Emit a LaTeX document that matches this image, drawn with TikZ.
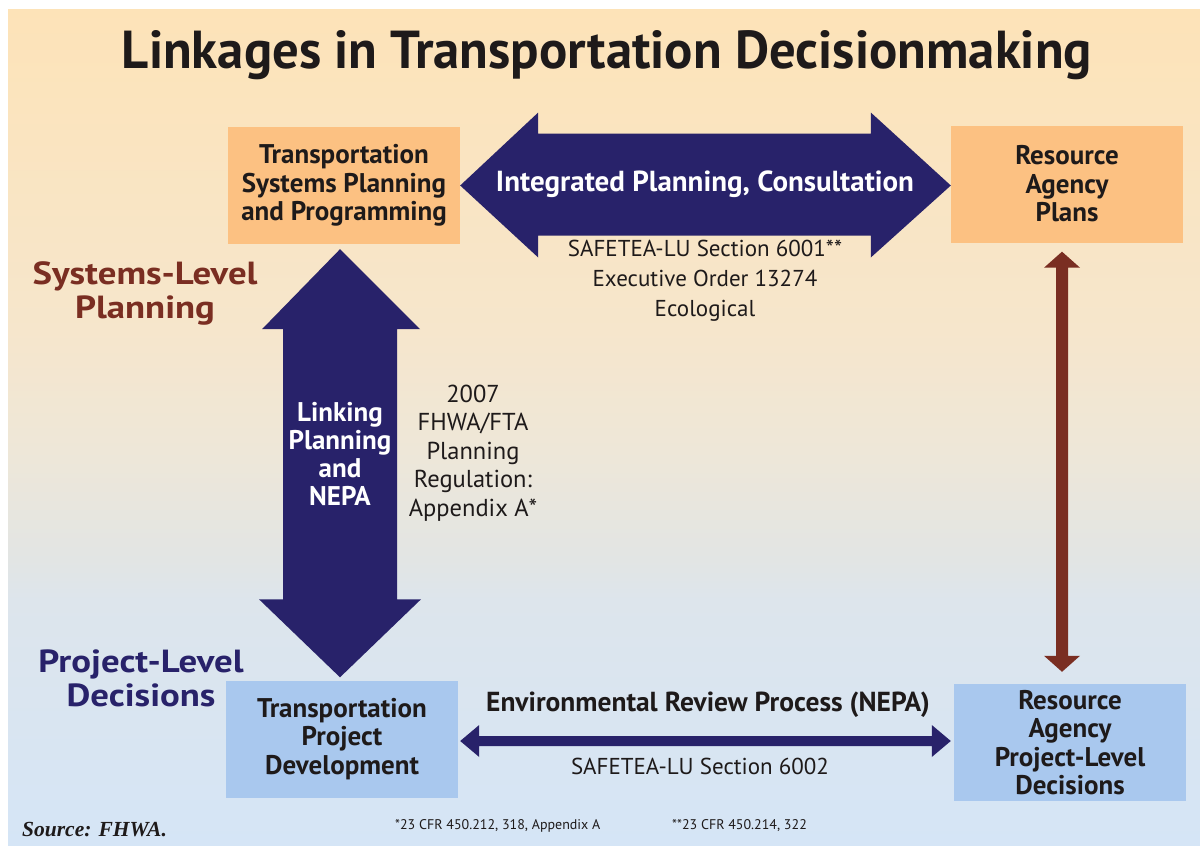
\documentclass[tikz,border=0pt]{standalone}
\usepackage{fontspec}
\setmainfont{PT Sans}
\newfontfamily\cf{PT Sans}
\newfontfamily\wf{PT Sans}[FakeStretch=1.15]
\newfontfamily\srcf{Liberation Serif}
\usetikzlibrary{calc}
\definecolor{navy}{HTML}{28226A}
\definecolor{brownr}{HTML}{7A2E22}
\definecolor{orbox}{HTML}{FCC182}
\definecolor{blbox}{HTML}{A9C8EE}
\definecolor{txt}{HTML}{1E1A1A}
\definecolor{bgA}{HTML}{FDE3B8}
\definecolor{bgB}{HTML}{F6E6CC}
\definecolor{bgC}{HTML}{EEE7D8}
\definecolor{bgD}{HTML}{E2E5E4}
\definecolor{bgE}{HTML}{DDE5EC}
\definecolor{bgF}{HTML}{D5E5F6}
\begin{document}
\begin{tikzpicture}[x=1pt,y=-1pt,
  box/.style={minimum width=232pt,minimum height=117pt,inner sep=0pt,align=center,
    text=txt,font=\cf\bfseries\fontsize{27}{28.5}\selectfont},
  reg/.style={align=center,text=txt,inner sep=0pt,font=\cf\fontsize{23}{30}\selectfont},
  whitebold/.style={align=center,text=white,inner sep=0pt},
  lvl/.style={align=center,inner sep=0pt,font=\wf\bfseries\fontsize{32}{34}\selectfont}]
\useasboundingbox (0,0) rectangle (1200,846);
\fill[white] (0,0) rectangle (1200,846);
% background
\shade[top color=bgA,bottom color=bgB] (8,9) rectangle (1200,330.5);
\shade[top color=bgB,bottom color=bgC] (8,330) rectangle (1200,450.5);
\shade[top color=bgC,bottom color=bgD] (8,450) rectangle (1200,560.5);
\shade[top color=bgD,bottom color=bgE] (8,560) rectangle (1200,600.5);
\shade[top color=bgE,bottom color=bgF] (8,600) rectangle (1200,846);
% title
\node[anchor=base,inner sep=0pt,text=txt] (title) at (607,68)
  {\resizebox{970pt}{38pt}{\bfseries Linkages in Transportation Decisionmaking}};
% boxes
\node[box,fill=orbox] (tsp) at (344,185.5) {Transportation\\Systems Planning\\and Programming};
\node[box,fill=orbox] (rap) at (1067,184) {Resource\\Agency\\Plans};
\node[box,fill=blbox] (tpd) at (342,739) {Transportation\\Project\\Development};
\node[box,fill=blbox] (rpd) at (1070,742.5) {Resource\\Agency\\Project-Level\\Decisions};
% level labels
\node[lvl,text=brownr] (sys) at (145,293) {Systems-Level\\Planning};
\node[lvl,text=navy] (proj) at (141,678) {Project-Level\\Decisions};
% top fat double arrow
\coordinate (ia) at (tsp.east);
\coordinate (ib) at (rap.west |- tsp.east);
\fill[navy] (ia) -- ($(ia)+(78,-73)$) -- ($(ia)+(78,-52)$) -- ($(ib)+(-80,-52)$)
  -- ($(ib)+(-80,-73)$) -- (ib) -- ($(ib)+(-80,72)$) -- ($(ib)+(-80,50)$)
  -- ($(ia)+(78,50)$) -- ($(ia)+(78,72)$) -- cycle;
\node[whitebold,font=\cf\bfseries\fontsize{29}{32}\selectfont] (ipc) at (705,184)
  {Integrated Planning, Consultation};
\node[reg] (s6001) at (705,281) {SAFETEA-LU Section 6001**\\Executive Order 13274\\Ecological};
% vertical fat double arrow
\coordinate (vt) at ($(tsp.south)+(-4,5)$);
\coordinate (vb) at ($(tpd.north)+(-2,-3)$);
\fill[navy] (vt) -- ($(vt)+(80,80)$) -- ($(vt)+(57,80)$) -- ($(vb)+(57,-78)$)
  -- ($(vb)+(81,-78)$) -- (vb) -- ($(vb)+(-81,-78)$) -- ($(vb)+(-57,-78)$)
  -- ($(vt)+(-57,80)$) -- ($(vt)+(-78,80)$) -- cycle;
\node[whitebold,font=\cf\bfseries\fontsize{27}{28}\selectfont] (lpn) at (340,454)
  {Linking\\Planning\\and\\NEPA};
\node[reg,font=\cf\fontsize{24.5}{28.5}\selectfont] (reg07) at (473,453)
  {2007\\FHWA/FTA\\Planning\\Regulation:\\Appendix A*};
% brown double arrow
\coordinate (rt) at ($(rap.south)+(-5,9)$);
\coordinate (rb) at ($(rpd.north)+(-8,-12)$);
\fill[brownr] (rt) -- ($(rt)+(18,16)$) -- ($(rt)+(6,16)$) -- ($(rb)+(6,-16)$)
  -- ($(rb)+(18,-16)$) -- (rb) -- ($(rb)+(-18,-16)$) -- ($(rb)+(-6,-16)$)
  -- ($(rt)+(-6,16)$) -- ($(rt)+(-18,16)$) -- cycle;
% bottom thin double arrow
\coordinate (ea) at ($(tpd.east)+(2,2)$);
\coordinate (eb) at ($(rpd.west)+(-3,-1.5)$);
\fill[navy] (ea) -- ($(ea)+(19,-16)$) -- ($(ea)+(19,-5)$) -- ($(eb)+(-19,-5)$)
  -- ($(eb)+(-19,-16)$) -- (eb) -- ($(eb)+(-19,16)$) -- ($(eb)+(-19,5)$)
  -- ($(ea)+(19,5)$) -- ($(ea)+(19,16)$) -- cycle;
\node[align=center,inner sep=0pt,text=txt,font=\cf\bfseries\fontsize{27.5}{30}\selectfont]
  (erp) at (708,705) {Environmental Review Process (NEPA)};
\node[reg] (s6002) at (700,766) {SAFETEA-LU Section 6002};
% footnotes
\node[anchor=west,inner sep=0pt,text=txt,font=\cf\fontsize{14}{16}\selectfont]
  (fn1) at (395,826) {*23 CFR 450.212, 318, Appendix A};
\node[anchor=west,inner sep=0pt,text=txt,font=\cf\fontsize{14}{16}\selectfont]
  (fn2) at (672,826) {**23 CFR 450.214, 322};
\node[anchor=west,inner sep=0pt,text=txt,font=\srcf\bfseries\itshape\fontsize{21.5}{24}\selectfont]
  (src) at (22,830) {Source: FHWA.};
\end{tikzpicture}
\end{document}
